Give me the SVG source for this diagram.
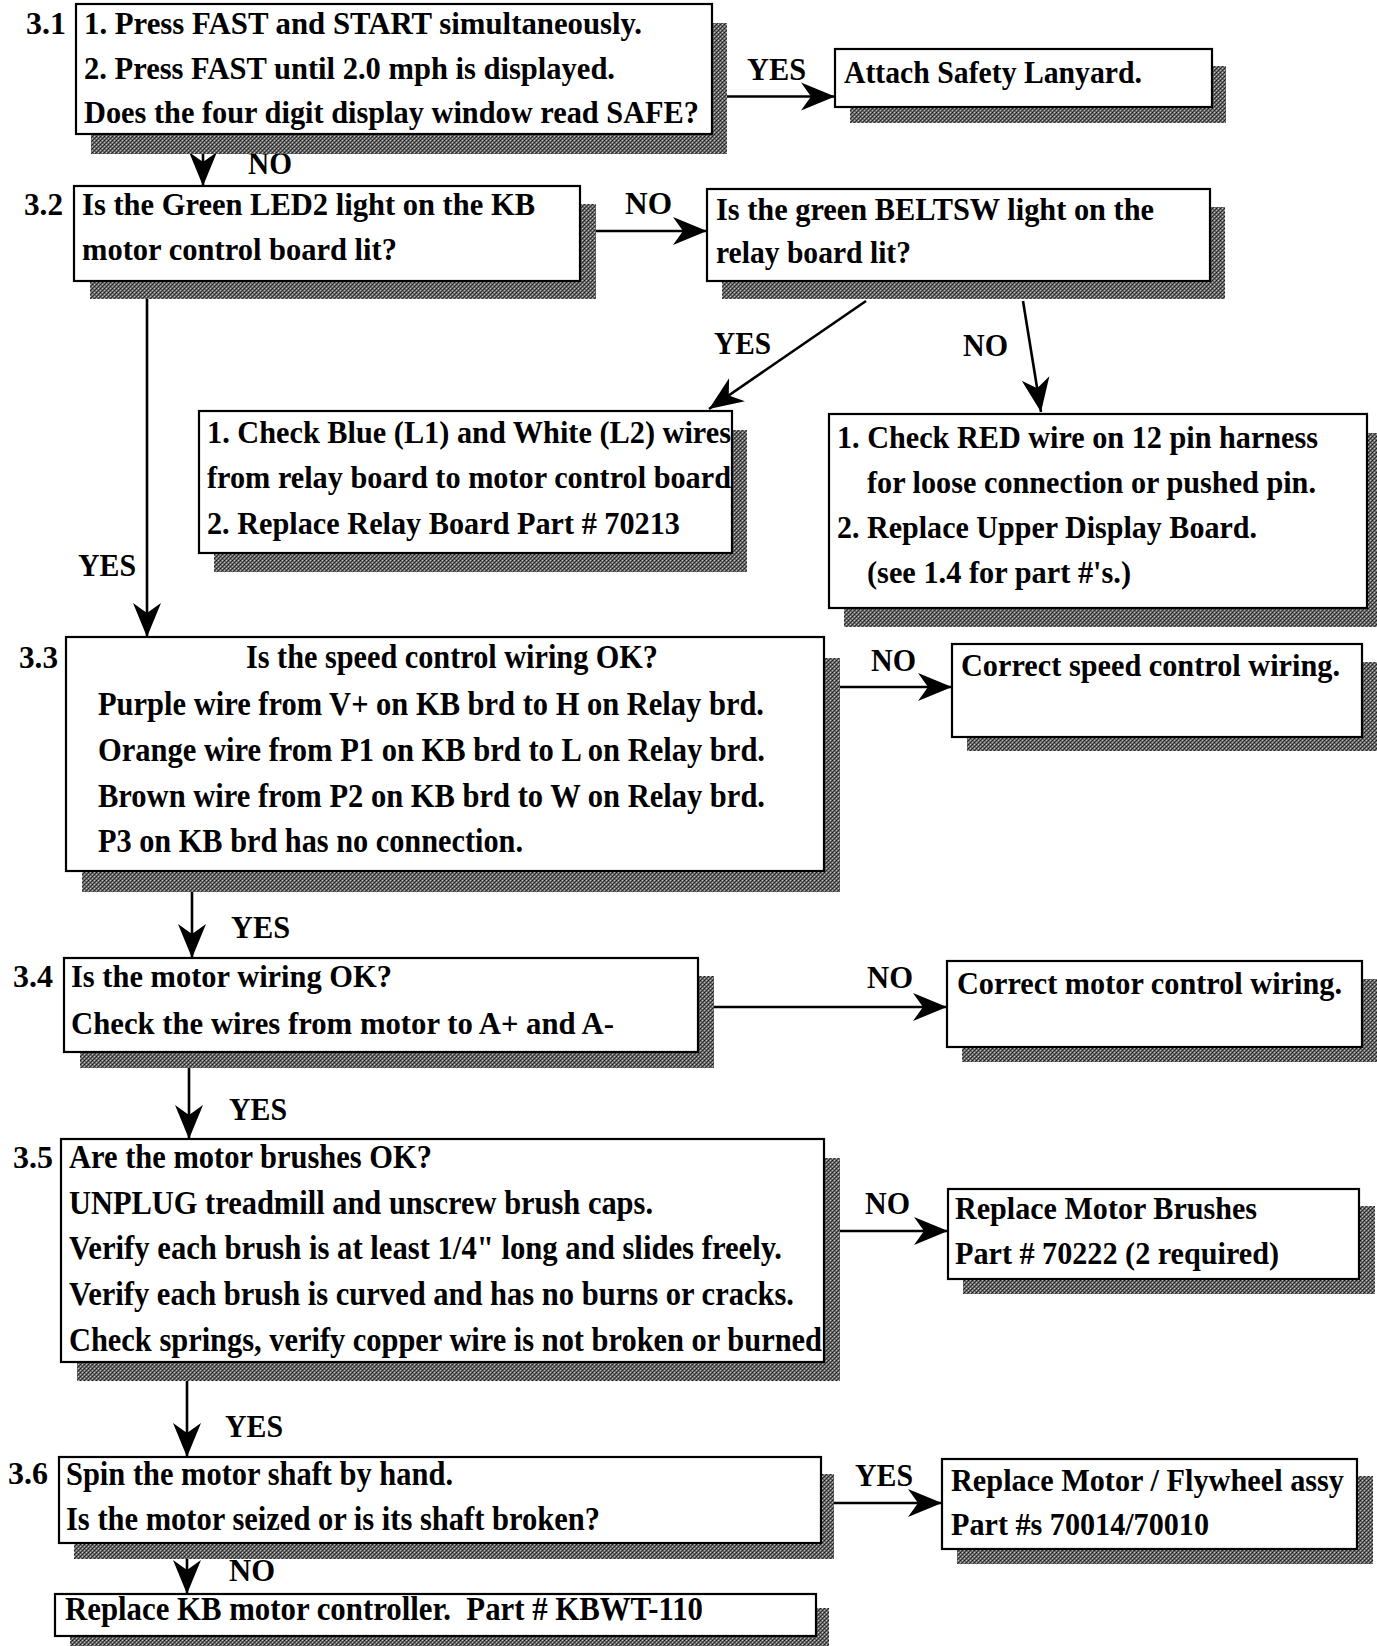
<svg xmlns="http://www.w3.org/2000/svg" width="1377" height="1646" viewBox="0 0 1377 1646">
<style>
.box{fill:#fff;stroke:#000;stroke-width:2.2}
.sh{fill:url(#stip)}
.t{font-family:"Liberation Serif","Times New Roman",serif;font-weight:bold;font-size:31px;fill:#000}
.c{font-size:33px}
.ln{stroke:#000;stroke-width:2.6;fill:none;marker-end:url(#ah)}
</style>
<defs>
<pattern id="stip" width="4" height="4" patternUnits="userSpaceOnUse">
<rect width="4" height="4" fill="#6a6a6a"/>
<rect x="0" y="0" width="1" height="1" fill="#1a1a1a"/>
<rect x="2" y="2" width="1" height="1" fill="#262626"/>
<rect x="1" y="3" width="1" height="1" fill="#3a3a3a"/>
<rect x="3" y="1" width="1" height="1" fill="#333"/>
<rect x="2" y="0" width="1" height="1" fill="#c8c8c8"/>
<rect x="0" y="2" width="1" height="1" fill="#b4b4b4"/>
</pattern>
<marker id="ah" markerUnits="userSpaceOnUse" markerWidth="36" markerHeight="30" refX="34" refY="15" orient="auto" viewBox="0 0 36 30">
<path d="M0,1 L34,15 L0,29 L10,15 z" fill="#000"/>
</marker>
</defs>
<rect width="1377" height="1646" fill="#fff"/>
<g id="connectors">
<line class="ln" x1="711" y1="96.5" x2="835" y2="96.5"/>
<line class="ln" x1="203" y1="134" x2="203" y2="186"/>
<line class="ln" x1="580" y1="231" x2="707" y2="231"/>
<line class="ln" x1="866" y1="301" x2="709" y2="409"/>
<line class="ln" x1="1023" y1="301" x2="1041" y2="412"/>
<line class="ln" x1="147" y1="281" x2="147" y2="637"/>
<line class="ln" x1="824" y1="687" x2="952" y2="687"/>
<line class="ln" x1="192" y1="871" x2="192" y2="958"/>
<line class="ln" x1="698" y1="1007" x2="947" y2="1007"/>
<line class="ln" x1="189" y1="1052" x2="189" y2="1139"/>
<line class="ln" x1="824" y1="1231" x2="948" y2="1231"/>
<line class="ln" x1="187" y1="1362" x2="187" y2="1457"/>
<line class="ln" x1="821" y1="1503" x2="942" y2="1503"/>
<line class="ln" x1="187" y1="1543" x2="187" y2="1594"/>
<g class="t">
<text x="747" y="80" textLength="59" lengthAdjust="spacingAndGlyphs">YES</text>
<text x="248" y="174" textLength="44" lengthAdjust="spacingAndGlyphs">NO</text>
<text x="625" y="214" textLength="47" lengthAdjust="spacingAndGlyphs">NO</text>
<text x="714" y="354" textLength="57" lengthAdjust="spacingAndGlyphs">YES</text>
<text x="963" y="356" textLength="45" lengthAdjust="spacingAndGlyphs">NO</text>
<text x="78" y="576" textLength="58" lengthAdjust="spacingAndGlyphs">YES</text>
<text x="871" y="671" textLength="45" lengthAdjust="spacingAndGlyphs">NO</text>
<text x="231" y="938" textLength="59" lengthAdjust="spacingAndGlyphs">YES</text>
<text x="867" y="988" textLength="46" lengthAdjust="spacingAndGlyphs">NO</text>
<text x="229" y="1120" textLength="58" lengthAdjust="spacingAndGlyphs">YES</text>
<text x="865" y="1214" textLength="45" lengthAdjust="spacingAndGlyphs">NO</text>
<text x="225" y="1437" textLength="58" lengthAdjust="spacingAndGlyphs">YES</text>
<text x="855" y="1486" textLength="58" lengthAdjust="spacingAndGlyphs">YES</text>
<text x="229" y="1581" textLength="46" lengthAdjust="spacingAndGlyphs">NO</text>
</g>
</g>
<g id="n31" class="t">
<rect class="sh" x="91" y="23" width="636" height="131"/>
<rect class="box" x="76" y="4" width="636" height="130"/>
<text x="26" y="34" textLength="40" lengthAdjust="spacingAndGlyphs">3.1</text>
<text x="84" y="34" textLength="558" lengthAdjust="spacingAndGlyphs">1. Press FAST and START simultaneously.</text>
<text x="84" y="79" textLength="531" lengthAdjust="spacingAndGlyphs">2. Press FAST until 2.0 mph is displayed.</text>
<text x="84" y="123" textLength="615" lengthAdjust="spacingAndGlyphs">Does the four digit display window read SAFE?</text>
</g>
<g id="nAttach" class="t">
<rect class="sh" x="850" y="66" width="376" height="57"/>
<rect class="box" x="835" y="49" width="377" height="58"/>
<text x="844" y="83" textLength="298" lengthAdjust="spacingAndGlyphs">Attach Safety Lanyard.</text>
</g>
<g id="n32" class="t">
<rect class="sh" x="90" y="204" width="506" height="95"/>
<rect class="box" x="74" y="186" width="506" height="95"/>
<text x="24" y="215" textLength="39" lengthAdjust="spacingAndGlyphs">3.2</text>
<text x="82" y="215" textLength="453" lengthAdjust="spacingAndGlyphs">Is the Green LED2 light on the KB</text>
<text x="82" y="260" textLength="315" lengthAdjust="spacingAndGlyphs">motor control board lit?</text>
</g>
<g id="nBeltsw" class="t">
<rect class="sh" x="722" y="207" width="503" height="92"/>
<rect class="box" x="707" y="189" width="503" height="92"/>
<text x="716" y="220" textLength="438" lengthAdjust="spacingAndGlyphs">Is the green BELTSW light on the</text>
<text x="716" y="263" textLength="195" lengthAdjust="spacingAndGlyphs">relay board lit?</text>
</g>
<g id="nCheckBlue" class="t">
<rect class="sh" x="214" y="430" width="533" height="142"/>
<rect class="box" x="199" y="411" width="533" height="142"/>
<text x="207" y="443" textLength="524" lengthAdjust="spacingAndGlyphs">1. Check Blue (L1) and White (L2) wires</text>
<text x="207" y="488" textLength="524" lengthAdjust="spacingAndGlyphs">from relay board to motor control board</text>
<text x="207" y="534" textLength="473" lengthAdjust="spacingAndGlyphs">2. Replace Relay Board Part # 70213</text>
</g>
<g id="nCheckRed" class="t">
<rect class="sh" x="844" y="433" width="533" height="194"/>
<rect class="box" x="829" y="414" width="538" height="194"/>
<text x="837" y="448" textLength="481" lengthAdjust="spacingAndGlyphs">1. Check RED wire on 12 pin harness</text>
<text x="867" y="493" textLength="449" lengthAdjust="spacingAndGlyphs">for loose connection or pushed pin.</text>
<text x="837" y="538" textLength="420" lengthAdjust="spacingAndGlyphs">2. Replace Upper Display Board.</text>
<text x="867" y="583" textLength="264" lengthAdjust="spacingAndGlyphs">(see 1.4 for part #'s.)</text>
</g>
<g id="n33" class="t">
<rect class="sh" x="82" y="658" width="758" height="234"/>
<rect class="box" x="66" y="637" width="758" height="234"/>
<text x="19" y="668" textLength="39" lengthAdjust="spacingAndGlyphs">3.3</text>
<text class="c" x="246" y="668" textLength="412" lengthAdjust="spacingAndGlyphs">Is the speed control wiring OK?</text>
<text class="c" x="98" y="715" textLength="666" lengthAdjust="spacingAndGlyphs">Purple wire from V+ on KB brd to H on Relay brd.</text>
<text class="c" x="98" y="761" textLength="667" lengthAdjust="spacingAndGlyphs">Orange wire from P1 on KB brd to L on Relay brd.</text>
<text class="c" x="98" y="807" textLength="667" lengthAdjust="spacingAndGlyphs">Brown wire from P2 on KB brd to W on Relay brd.</text>
<text class="c" x="98" y="852" textLength="425" lengthAdjust="spacingAndGlyphs">P3 on KB brd has no connection.</text>
</g>
<g id="nSpeed" class="t">
<rect class="sh" x="967" y="662" width="410" height="89"/>
<rect class="box" x="952" y="644" width="410" height="93"/>
<text x="961" y="676" textLength="379" lengthAdjust="spacingAndGlyphs">Correct speed control wiring.</text>
</g>
<g id="n34" class="t">
<rect class="sh" x="80" y="976" width="634" height="92"/>
<rect class="box" x="64" y="958" width="634" height="94"/>
<text x="13" y="987" textLength="40" lengthAdjust="spacingAndGlyphs">3.4</text>
<text x="71" y="987" textLength="321" lengthAdjust="spacingAndGlyphs">Is the motor wiring OK?</text>
<text x="71" y="1034" textLength="543" lengthAdjust="spacingAndGlyphs">Check the wires from motor to A+ and A-</text>
</g>
<g id="nMotor" class="t">
<rect class="sh" x="962" y="979" width="415" height="83"/>
<rect class="box" x="947" y="961" width="415" height="86"/>
<text x="957" y="994" textLength="385" lengthAdjust="spacingAndGlyphs">Correct motor control wiring.</text>
</g>
<g id="n35" class="t">
<rect class="sh" x="77" y="1158" width="763" height="223"/>
<rect class="box" x="61" y="1139" width="763" height="223"/>
<text x="13" y="1168" textLength="40" lengthAdjust="spacingAndGlyphs">3.5</text>
<text class="c" x="69" y="1168" textLength="363" lengthAdjust="spacingAndGlyphs">Are the motor brushes OK?</text>
<text class="c" x="69" y="1214" textLength="584" lengthAdjust="spacingAndGlyphs">UNPLUG treadmill and unscrew brush caps.</text>
<text class="c" x="69" y="1259" textLength="713" lengthAdjust="spacingAndGlyphs">Verify each brush is at least 1/4" long and slides freely.</text>
<text class="c" x="69" y="1305" textLength="725" lengthAdjust="spacingAndGlyphs">Verify each brush is curved and has no burns or cracks.</text>
<text class="c" x="69" y="1351" textLength="753" lengthAdjust="spacingAndGlyphs">Check springs, verify copper wire is not broken or burned</text>
</g>
<g id="nBrushes" class="t">
<rect class="sh" x="963" y="1206" width="412" height="88"/>
<rect class="box" x="948" y="1189" width="411" height="90"/>
<text x="955" y="1219" textLength="302" lengthAdjust="spacingAndGlyphs">Replace Motor Brushes</text>
<text x="955" y="1264" textLength="324" lengthAdjust="spacingAndGlyphs">Part # 70222 (2 required)</text>
</g>
<g id="n36" class="t">
<rect class="sh" x="74" y="1474" width="760" height="85"/>
<rect class="box" x="59" y="1457" width="762" height="86"/>
<text x="8" y="1484" textLength="40" lengthAdjust="spacingAndGlyphs">3.6</text>
<text class="c" x="66" y="1485" textLength="387" lengthAdjust="spacingAndGlyphs">Spin the motor shaft by hand.</text>
<text class="c" x="66" y="1530" textLength="534" lengthAdjust="spacingAndGlyphs">Is the motor seized or is its shaft broken?</text>
</g>
<g id="nFlywheel" class="t">
<rect class="sh" x="957" y="1476" width="416" height="88"/>
<rect class="box" x="942" y="1459" width="415" height="90"/>
<text x="951" y="1491" textLength="393" lengthAdjust="spacingAndGlyphs">Replace Motor / Flywheel assy</text>
<text x="951" y="1535" textLength="258" lengthAdjust="spacingAndGlyphs">Part #s 70014/70010</text>
</g>
<g id="nKB" class="t">
<rect class="sh" x="70" y="1608" width="759" height="38"/>
<rect class="box" x="55" y="1594" width="761" height="42"/>
<text class="c" x="65" y="1620" textLength="638" lengthAdjust="spacingAndGlyphs" xml:space="preserve">Replace KB motor controller.  Part # KBWT-110</text>
</g>
</svg>
